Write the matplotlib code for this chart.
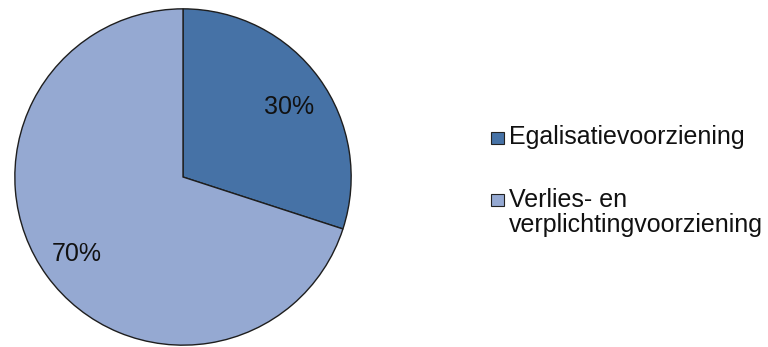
import matplotlib.pyplot as plt
import matplotlib.patches as patches

plt.rcParams['font.family'] = ['Liberation Sans', 'DejaVu Sans']

labels = ['Egalisatievoorziening', 'Verlies- en\nverplichtingvoorziening']
values = [30, 70]
colors = ['#4672A6', '#95A9D2']

W, H = 768, 347
fig = plt.figure(figsize=(W / 100, H / 100), dpi=100)

# pie: centre (183, 177) px, radius 169 px
cx, cy, r = 183, 177, 169
ax = fig.add_axes([(cx - r) / W, (H - cy - r) / H, 2 * r / W, 2 * r / H])
wedges, texts, autotexts = ax.pie(
    values, colors=colors, startangle=90, counterclock=False,
    autopct='%d%%', pctdistance=0.78,
    wedgeprops=dict(edgecolor='#1e1e1e', linewidth=1.0),
    textprops=dict(fontsize=18, color='#111111'))
# small nudge of the 30% label to sit where the original has it
x0, y0 = autotexts[0].get_position()
autotexts[0].set_position((x0, y0 - 0.04))
ax.set_xlim(-1.005, 1.005)
ax.set_ylim(-1.005, 1.005)
ax.set_aspect('equal')
ax.axis('off')

# legend, drawn by hand so the marker sits on the first line
leg_base = [144, 206]   # baseline of first line, px from top
line_h = 26             # px between lines
for lab, col, y in zip(labels, colors, leg_base):
    fig.patches.append(patches.Rectangle(
        (491 / W, (H - y) / H), 13 / W, 12 / H,
        transform=fig.transFigure, facecolor=col, edgecolor='#222222', linewidth=0.8))
    n = lab.count('\n')
    # va='baseline' aligns on the last line, so push down by the extra lines
    fig.text(509 / W, (H - y - n * line_h) / H, lab, fontsize=18, color='#111111',
             ha='left', va='baseline', linespacing=1.03)

plt.savefig('out.png', dpi=100)
